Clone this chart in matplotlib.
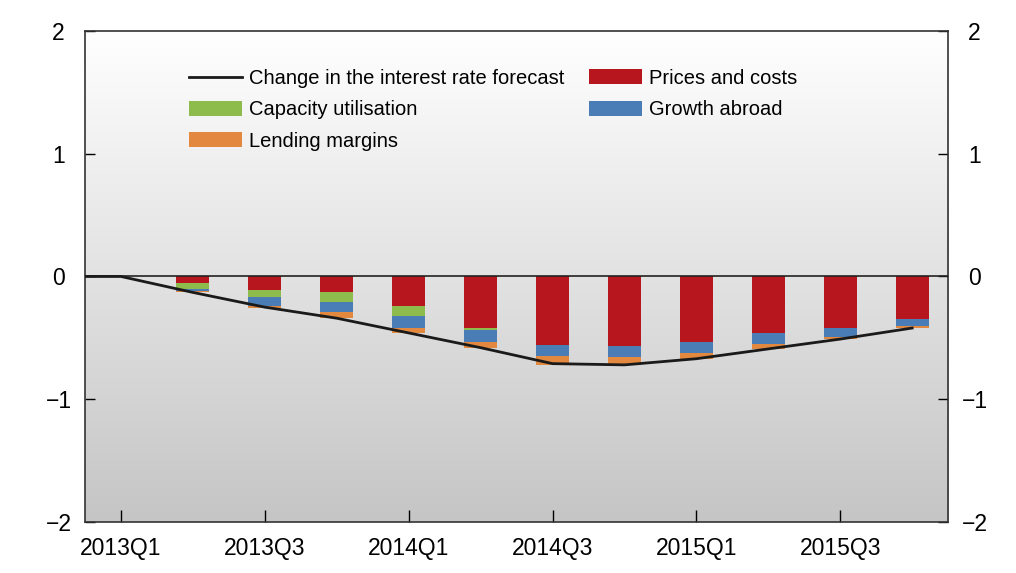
import numpy as np
import matplotlib
matplotlib.use("Agg")
import matplotlib.pyplot as plt
from matplotlib.colors import LinearSegmentedColormap

plt.rcParams['font.family'] = ['Liberation Sans', 'DejaVu Sans']

# quarters 2012Q4 .. 2015Q4 (first one only carries the flat start of the line)
quarters = ["2012Q4",
            "2013Q1", "2013Q2", "2013Q3", "2013Q4",
            "2014Q1", "2014Q2", "2014Q3", "2014Q4",
            "2015Q1", "2015Q2", "2015Q3", "2015Q4"]

forecast_change = [0.0, 0.0, -0.13, -0.25, -0.34, -0.46, -0.58, -0.71, -0.72, -0.67, -0.59, -0.51, -0.42]
prices_costs = [0.0, 0.0, -0.05, -0.11, -0.13, -0.24, -0.42, -0.56, -0.57, -0.53, -0.46, -0.42, -0.35]
capacity_util = [0.0, 0.0, -0.05, -0.06, -0.08, -0.08, -0.02, 0.0, 0.0, 0.0, 0.0, 0.0, 0.0]
growth_abroad = [0.0, 0.0, -0.02, -0.07, -0.08, -0.10, -0.09, -0.09, -0.09, -0.09, -0.09, -0.07, -0.05]
lending_margins = [0.0, 0.0, -0.01, -0.02, -0.05, -0.04, -0.05, -0.07, -0.06, -0.05, -0.04, -0.02, -0.02]

tick_labels = ["2013Q1", "2013Q3", "2014Q1", "2014Q3", "2015Q1", "2015Q3"]
y_ticks = [-2, -1, 0, 1, 2]

RED = "#B8161E"
GREEN = "#8DBB4C"
BLUE = "#4A7DB5"
ORANGE = "#E3893F"

fig = plt.figure(figsize=(10.16, 5.73), dpi=100)
ax = fig.add_axes([0.0837, 0.089, 0.8495, 0.857])

x = np.arange(len(quarters))

# gradient background
grad = LinearSegmentedColormap.from_list("bg", ["#C5C5C5", "#FFFFFF"])
ax.imshow(np.linspace(0, 1, 256).reshape(-1, 1), cmap=grad, origin="lower",
          extent=[0, 1, 0, 1], transform=ax.transAxes, aspect="auto", zorder=0)

w = 0.46
bottom = np.zeros(len(quarters))
series = [(prices_costs, RED, "Prices and costs"),
          (capacity_util, GREEN, "Capacity utilisation"),
          (growth_abroad, BLUE, "Growth abroad"),
          (lending_margins, ORANGE, "Lending margins")]
handles = {}
for vals, col, name in series:
    vals = np.array(vals)
    handles[name] = ax.bar(x, vals, w, bottom=bottom, color=col, linewidth=0, zorder=2)
    bottom = bottom + vals

ax.axhline(0, color="#222222", linewidth=1.2, zorder=3)
line, = ax.plot(x, forecast_change, color="#1A1A1A", linewidth=2.0, zorder=4)

ax.set_xlim(0.5, 12.5)
ax.set_ylim(-2, 2)
ax.set_xticks(x[1::2])
ax.set_xticklabels(tick_labels)
ax.set_yticks(y_ticks)
ax.set_yticklabels([str(v).replace("-", "\u2212") for v in y_ticks])

ax.tick_params(axis="x", direction="in", length=9, width=1, pad=11, labelsize=16.5)
ax.tick_params(axis="y", direction="in", length=7, width=1, labelsize=16.5,
               left=True, right=True, labelleft=True, labelright=True)
for t in ax.yaxis.get_major_ticks():
    t.label1.set_horizontalalignment("center")
    t.label2.set_horizontalalignment("center")
    t.set_pad(19)
for sp in ax.spines.values():
    sp.set_linewidth(1.2)
    sp.set_color("#333333")

leg = ax.legend([line, handles["Capacity utilisation"], handles["Lending margins"],
                 handles["Prices and costs"], handles["Growth abroad"]],
                ["Change in the interest rate forecast", "Capacity utilisation", "Lending margins",
                 "Prices and costs", "Growth abroad"],
                ncol=2, loc="upper left", bbox_to_anchor=(0.100, 0.960), frameon=False,
                fontsize=14.5, handlelength=2.6, handleheight=0.75, handletextpad=0.35,
                labelspacing=0.62, columnspacing=1.25)

fig.savefig("out.png", dpi=100, facecolor="white")
